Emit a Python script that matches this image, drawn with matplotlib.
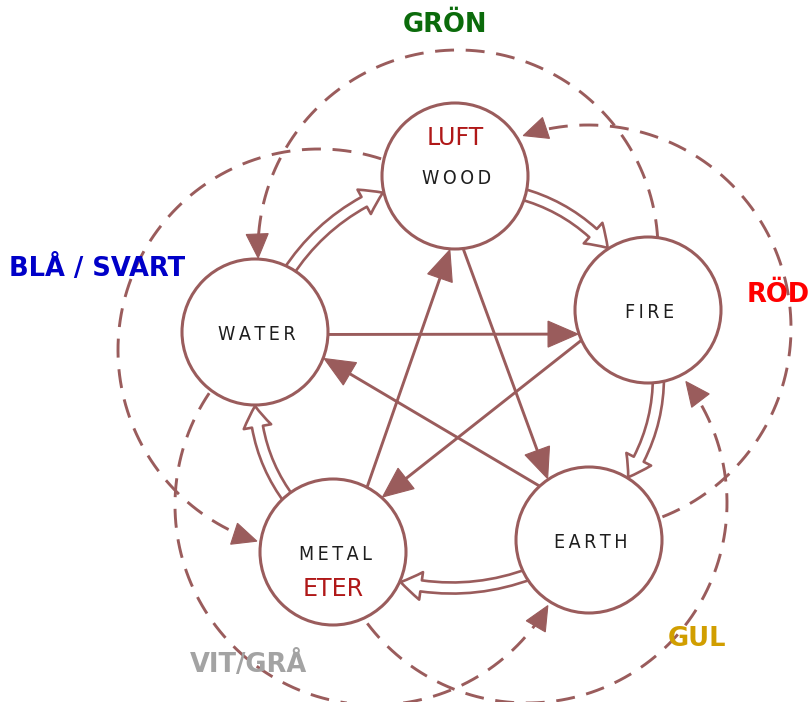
import numpy as np
import matplotlib
matplotlib.use("Agg")
import matplotlib.pyplot as plt
from matplotlib.patches import Circle, Polygon, FancyArrowPatch, ArrowStyle

# ── Data ──────────────────────────────────────────────────────────────────────
ELEMENTS = ["WOOD", "FIRE", "EARTH", "METAL", "WATER"]
CENTER_X = [455, 648, 589, 333, 255]
CENTER_Y = [176, 310, 540, 552, 332]
RADIUS = 73

# second (red) names inside two of the circles
EXTRA_NAME = {"WOOD": "LUFT", "METAL": "ETER"}

# controlling star: source, target, angle on source circle, angle on target circle
STAR_SRC = ["WATER", "WOOD", "FIRE", "EARTH", "METAL"]
STAR_DST = ["FIRE", "EARTH", "METAL", "WATER", "WOOD"]
STAR_A0 = [2, 84, 156, -132, -62]
STAR_A1 = [161, -124, -48, 21, 94]

# generating cycle (hollow arrows)
GEN_SRC = ["WATER", "WOOD", "FIRE", "EARTH", "METAL"]
GEN_DST = ["WOOD", "FIRE", "EARTH", "METAL", "WATER"]
GEN_A0 = [-61, 15, 81, 150, -130]
GEN_A1 = [167, -123, -58, 24, 90]

# dashed outer arcs: centre, radius, start / end angle (degrees, screen y down)
ARC_CX = [458, 588, 527, 375, 319]
ARC_CY = [250, 328, 503, 505, 350]
ARC_R = [200, 203, 200, 200, 201]
ARC_T0 = [-3.4, 68.5, 143, 214, -72]
ARC_T1 = [-182.3, -108.6, -37.4, 30.2, -252]

# colour labels round the outside
COLOR_LABELS = ["GRÖN", "RÖD", "GUL", "VIT/GRÅ", "BLÅ / SVART"]
COLOR_VALUES = ["#0b6b0b", "#ff0000", "#d19e00", "#a3a3a3", "#0000c8"]
LABEL_X = [445, 747, 697, 249, 9]
LABEL_Y = [25, 295, 639, 665, 268]
LABEL_HA = ["center", "left", "center", "center", "left"]

BROWN = "#9a5c5c"
LW = 2.1

# ── Helpers ───────────────────────────────────────────────────────────────────
pos = {e: np.array([x, y], float) for e, x, y in zip(ELEMENTS, CENTER_X, CENTER_Y)}


def on_circle(name, deg, r=RADIUS):
    t = np.radians(deg)
    return pos[name] + r * np.array([np.cos(t), np.sin(t)])


def head(ax, tip, direction, length, width):
    d = np.asarray(direction, float)
    d = d / np.linalg.norm(d)
    n = np.array([-d[1], d[0]])
    base = tip - d * length
    tri = [tip, base + n * width / 2, base - n * width / 2]
    ax.add_patch(Polygon(tri, closed=True, fc=BROWN, ec=BROWN, lw=0.8, zorder=4))


fig = plt.figure(figsize=(8.12, 7.02), dpi=100)
ax = fig.add_axes([0, 0, 1, 1])
ax.set_xlim(0, 812)
ax.set_ylim(702, 0)
ax.axis("off")

# ── Dashed arcs ───────────────────────────────────────────────────────────────
HEAD_L, HEAD_W = 24, 22
for cx, cy, r, t0, t1 in zip(ARC_CX, ARC_CY, ARC_R, ARC_T0, ARC_T1):
    sgn = np.sign(t1 - t0)
    t_end = np.radians(t1)
    t_stop = t_end - sgn * (HEAD_L - 2) / r
    t = np.linspace(np.radians(t0), t_stop, 200)
    ax.plot(cx + r * np.cos(t), cy + r * np.sin(t), color=BROWN, lw=LW,
            ls=(0, (6.5, 4)), solid_capstyle="butt", zorder=2)
    tip = np.array([cx + r * np.cos(t_end), cy + r * np.sin(t_end)])
    tang = sgn * np.array([-np.sin(t_end), np.cos(t_end)])
    head(ax, tip, tang, HEAD_L, HEAD_W)

# ── Star arrows ───────────────────────────────────────────────────────────────
for s, d, a0, a1 in zip(STAR_SRC, STAR_DST, STAR_A0, STAR_A1):
    p0 = on_circle(s, a0, RADIUS - 2)
    p1 = on_circle(d, a1, RADIUS + 1)
    v = p1 - p0
    base = p1 - v / np.linalg.norm(v) * 24
    ax.plot([p0[0], base[0]], [p0[1], base[1]], color=BROWN, lw=LW, zorder=2)
    head(ax, p1, v, 30, 26)

# ── Hollow generating arrows ──────────────────────────────────────────────────
style = ArrowStyle.Simple(head_length=15, head_width=20, tail_width=8)
for s, d, a0, a1 in zip(GEN_SRC, GEN_DST, GEN_A0, GEN_A1):
    p0 = on_circle(s, a0, RADIUS - 6)
    p1 = on_circle(d, a1, RADIUS + 1)
    arr = FancyArrowPatch(p0, p1, arrowstyle=style, mutation_scale=1,
                          connectionstyle="arc3,rad=-0.15", fc="white",
                          ec=BROWN, lw=1.9, shrinkA=0, shrinkB=0, zorder=2)
    ax.add_patch(arr)

# ── Circles and names ─────────────────────────────────────────────────────────
for e in ELEMENTS:
    ax.add_patch(Circle(pos[e], RADIUS, fc="white", ec=BROWN, lw=LW + 0.1, zorder=3))
    x, y = pos[e]
    ax.text(x + 2, y + 3, "\u2009".join(e), ha="center", va="center",
            fontsize=14, fontstretch="condensed", fontweight="normal",
            color="#1e1e1e", family="DejaVu Sans", zorder=5)
    if e in EXTRA_NAME:
        off = -38 if e == "WOOD" else 37
        ax.text(x, y + off, EXTRA_NAME[e], ha="center", va="center",
                fontsize=17, color="#b01818", family="DejaVu Sans", zorder=5)

# ── Colour labels ─────────────────────────────────────────────────────────────
for txt, c, x, y, ha in zip(COLOR_LABELS, COLOR_VALUES, LABEL_X, LABEL_Y, LABEL_HA):
    ax.text(x, y, txt, ha=ha, va="center", fontsize=18.5, fontweight="bold",
            color=c, family="DejaVu Sans", zorder=6)

fig.savefig("out.png", dpi=100)
